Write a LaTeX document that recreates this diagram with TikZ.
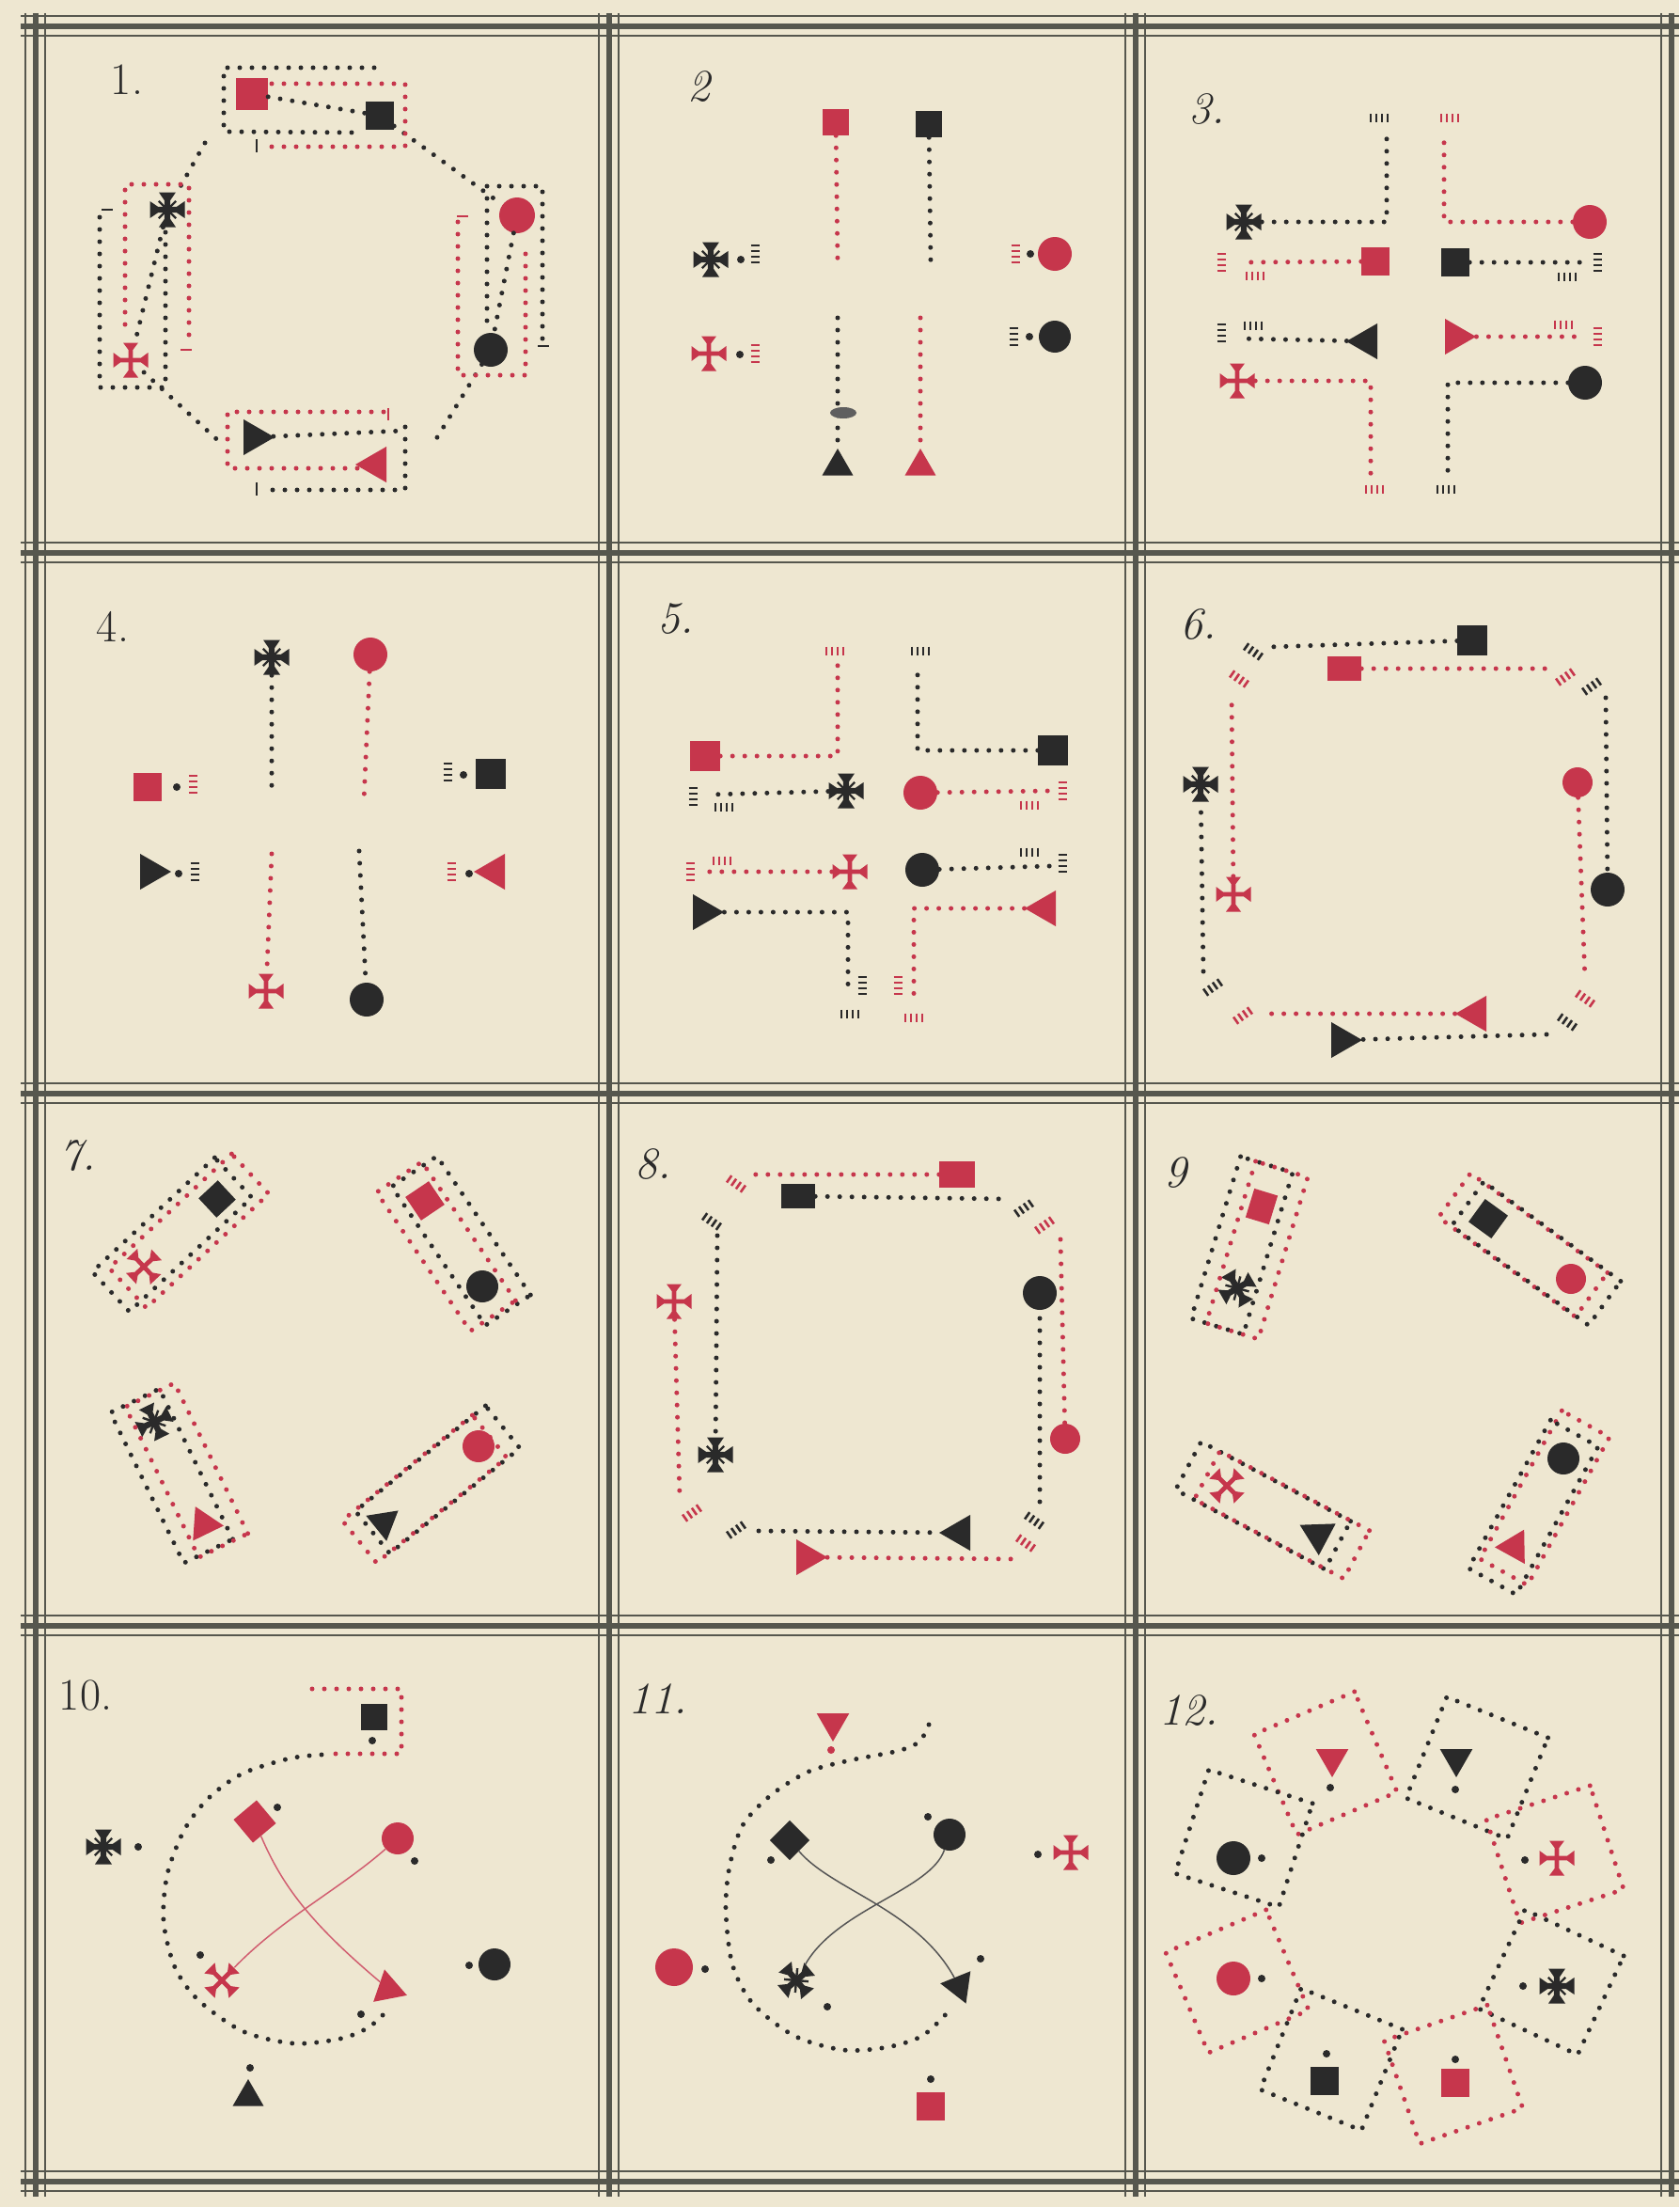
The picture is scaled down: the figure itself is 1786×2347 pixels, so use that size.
\documentclass[tikz,border=0pt]{standalone}
\usepackage{tikz}
\usetikzlibrary{shapes.geometric,calc}

\definecolor{paper}{HTML}{EEE7D1}
\definecolor{inkblack}{HTML}{2A2A2A}
\definecolor{inkred}{HTML}{C6364C}
\definecolor{rulegray}{HTML}{56574E}

\tikzset{
  bpath/.style={draw=inkblack, line width=5pt, line cap=round, dash pattern=on 0pt off 13pt},
  rpath/.style={bpath, draw=inkred},
  boxB/.style={bpath, inner sep=0pt},
  boxR/.style={rpath, inner sep=0pt},
  sqr/.style={rectangle, fill=#1, minimum size=30pt, inner sep=0pt},
  cir/.style={circle, fill=#1, minimum size=36pt, inner sep=0pt},
  tri/.style={regular polygon, regular polygon sides=3, fill=#1, minimum size=44pt, inner sep=0pt},
  crs/.style={circle, minimum size=38pt, inner sep=0pt},
  spot/.style={circle, fill=#1, minimum size=8pt, inner sep=0pt},
  endtick/.style={draw=#1, line width=2.6pt},
  cord/.style={draw=#1, line width=1.5pt},
  lbl/.style={text=inkblack, font=\fontsize{48}{48}\selectfont\itshape},
  lblup/.style={text=inkblack, font=\fontsize{48}{48}\selectfont},
  frameln/.style={draw=rulegray, line width=2pt},
  pics/steps/.style={code={
    \foreach \i in {-9,-3,3,9} \draw[#1, line width=2.6pt] (\i,-4.5) -- (\i,4.5);
  }},
  pics/cross/.style={code={
    \foreach \a in {0,90,180,270}
      \fill[#1, rotate=\a] (-2.4,0) -- (-2.4,11) -- (-8,18.5) -- (8,18.5) -- (2.4,11) -- (2.4,0) -- cycle;
  }},
  pics/starcross/.style={code={
    \foreach \a in {0,90,180,270}
      \fill[#1, rotate=\a] (-3.2,0) -- (-3.2,10) -- (-9,18.5) -- (9,18.5) -- (3.2,10) -- (3.2,0) -- cycle;
    \foreach \a in {45,135,225,315}
      \draw[#1, line width=2.4pt, rotate=\a] (0,0) -- (0,13);
  }},
}

\begin{document}
\begin{tikzpicture}[x=1pt, y=-1pt]
\fill[paper] (0,0) rectangle (1786,2347);
\useasboundingbox (0,0) rectangle (1786,2347);

% ruled frame
\foreach \c in {28,588,1163,1729,2320} {
  \draw[frameln] (22,\c-11) -- (1786,\c-11);
  \draw[frameln, line width=5.5pt] (22,\c) -- (1786,\c);
  \draw[frameln] (22,\c+10) -- (1786,\c+10);
}
\foreach \c in {38,648,1208,1778} {
  \draw[frameln] (\c-11,14) -- (\c-11,2336);
  \draw[frameln, line width=5.5pt] (\c,14) -- (\c,2336);
  \draw[frameln] (\c+10,14) -- (\c+10,2336);
}

% figure 1
\node[lblup] (n1) at (135,85) {1.};
\node[sqr=inkred, minimum size=34pt] (p1rs) at (268,100) {};
\node[sqr=inkblack] (p1bs) at (404,123) {};
\node[cir=inkred, minimum size=38pt] (p1rc) at (550,229) {};
\node[cir=inkblack] (p1bc) at (522,372) {};
\node[tri=inkred, shape border rotate=90] (p1rt) at (400,494) {};
\node[tri=inkblack, shape border rotate=-90] (p1bt) at (270,465) {};
\node[crs] (p1rx) at (139,383) {};
\node[crs] (p1bx) at (178,223) {};
\pic at (p1rx) {cross=inkred};
\pic at (p1bx) {starcross=inkblack};
\coordinate (p1o1) at (462,470);
\coordinate (p1o2) at (430,458);
\coordinate (p1o3) at (238,474);
\coordinate (p1o4) at (218,152);
\draw[bpath] (p1rs) -- (p1bs);
\draw[bpath] (p1bs) -- (p1rc);
\draw[bpath] (p1rc) -- (p1bc);
\draw[bpath] (p1bc) -- (p1o1);
\draw[bpath] (p1bt) -- (p1o2);
\draw[bpath] (p1rx) -- (p1o3);
\draw[bpath] (p1bx) -- (p1rx);
\draw[bpath] (p1o4) -- (p1bx);
% partner boxes
\draw[bpath] (398,72) -- (238,72) -- (238,140) -- (382,141);
\draw[rpath] (289,89) -- (431,89) -- (431,156) -- (276,156);
\draw[rpath] (487,236) -- (487,399) -- (559,399) -- (559,258);
\draw[bpath] (518,341) -- (518,198) -- (577,198) -- (577,362);
\draw[bpath] (176,247) -- (176,412) -- (106,412) -- (106,228);
\draw[rpath] (133,345) -- (133,196) -- (201,196) -- (201,368);
\draw[rpath] (408,438) -- (242,438) -- (242,498) -- (382,498);
\draw[bpath] (431,454) -- (431,521) -- (278,521);
\draw[endtick=inkblack] (273,148) -- (273,162);
\draw[endtick=inkred] (486,230) -- (498,230);
\draw[endtick=inkblack] (572,368) -- (584,368);
\draw[endtick=inkblack] (108,223) -- (120,223);
\draw[endtick=inkred] (192,372) -- (204,372);
\draw[endtick=inkred] (413,434) -- (413,447);
\draw[endtick=inkblack] (273,513) -- (273,527);

% figure 2
\node[lbl] (n2) at (743,92) {2};
\node[sqr=inkred, minimum size=28pt] (p2rs) at (889,130) {};
\node[sqr=inkblack, minimum size=28pt] (p2bs) at (988,132) {};
\coordinate (p2e1) at (891,280);
\coordinate (p2e2) at (990,280);
\draw[rpath] (p2rs) -- (p2e1);
\draw[bpath] (p2bs) -- (p2e2);
\node[crs] (p2bx) at (756,276) {};
\pic at (p2bx) {starcross=inkblack};
\node[spot=inkblack] (p2f1) at (788,276) {};
\pic[rotate=90] at (803,270) {steps=inkblack};
\node[crs] (p2rx) at (754,376) {};
\pic at (p2rx) {cross=inkred};
\node[spot=inkblack] (p2f2) at (787,377) {};
\pic[rotate=90] at (803,376) {steps=inkred};
\node[cir=inkred, minimum size=36pt] (p2rc) at (1122,270) {};
\node[spot=inkblack] (p2f3) at (1096,270) {};
\pic[rotate=90] at (1080,270) {steps=inkred};
\node[cir=inkblack, minimum size=34pt] (p2bc) at (1122,358) {};
\node[spot=inkblack] (p2f4) at (1095,358) {};
\pic[rotate=90] at (1078,358) {steps=inkblack};
\coordinate (p2e3) at (891,338);
\coordinate (p2e4) at (979,338);
\node[tri=inkblack, minimum size=38pt] (p2bt) at (891,496) {};
\node[tri=inkred, minimum size=38pt] (p2rt) at (979,496) {};
\draw[bpath] (p2e3) -- (p2bt);
\draw[rpath] (p2e4) -- (p2rt);
\fill[inkblack!75] (897,439) ellipse (14pt and 6pt);

% figure 3
\node[lbl] (n3) at (1284,116) {3.};
\node[crs] (p3bx) at (1323,236) {};
\pic at (p3bx) {starcross=inkblack};
\node[cir=inkred] (p3rc) at (1691,236) {};
\node[sqr=inkred, minimum size=30pt] (p3rs) at (1463,278) {};
\node[sqr=inkblack, minimum size=30pt] (p3bs) at (1548,279) {};
\node[tri=inkblack, shape border rotate=90] (p3bt) at (1454,363) {};
\node[tri=inkred, shape border rotate=-90] (p3rt) at (1548,358) {};
\node[crs] (p3rx) at (1316,405) {};
\pic at (p3rx) {cross=inkred};
\node[cir=inkblack] (p3bc) at (1686,407) {};
\coordinate (p3e1) at (1475,141);
\coordinate (p3e2) at (1536,145);
\coordinate (p3e3) at (1318,279);
\coordinate (p3e4) at (1684,279);
\coordinate (p3e5) at (1318,360);
\coordinate (p3e6) at (1684,358);
\coordinate (p3e7) at (1458,505);
\coordinate (p3e8) at (1540,505);
\draw[bpath] (p3bx) -| (p3e1);
\draw[rpath] (p3rc) -| (p3e2);
\draw[rpath] (p3rs) -- (p3e3);
\draw[bpath] (p3bs) -- (p3e4);
\draw[bpath] (p3bt) -- (p3e5);
\draw[rpath] (p3rt) -- (p3e6);
\draw[rpath] (p3rx) -| (p3e7);
\draw[bpath] (p3bc) -| (p3e8);
\pic at (1467,126) {steps=inkblack};
\pic at (1542,126) {steps=inkred};
\pic[rotate=90] at (1299,279) {steps=inkred};
\pic at (1335,293) {steps=inkred};
\pic[rotate=90] at (1699,279) {steps=inkblack};
\pic at (1667,294) {steps=inkblack};
\pic[rotate=90] at (1299,354) {steps=inkblack};
\pic at (1333,346) {steps=inkblack};
\pic[rotate=90] at (1699,358) {steps=inkred};
\pic at (1663,345) {steps=inkred};
\pic at (1462,520) {steps=inkred};
\pic at (1538,520) {steps=inkblack};

% figure 4
\node[lblup] (n4) at (120,666) {4.};
\node[crs] (p4bx) at (289,699) {};
\pic at (p4bx) {starcross=inkblack};
\node[cir=inkred] (p4rc) at (394,696) {};
\coordinate (p4e1) at (289,845);
\coordinate (p4e2) at (387,852);
\draw[bpath] (p4bx) -- (p4e1);
\draw[rpath] (p4rc) -- (p4e2);
\node[sqr=inkred] (p4rs) at (157,837) {};
\node[spot=inkblack] (p4f1) at (188,837) {};
\pic[rotate=90] at (205,834) {steps=inkred};
\node[tri=inkblack, shape border rotate=-90] (p4bt) at (160,927) {};
\node[spot=inkblack] (p4f2) at (190,929) {};
\pic[rotate=90] at (207,927) {steps=inkblack};
\node[sqr=inkblack, minimum size=32pt] (p4bs) at (522,823) {};
\node[spot=inkblack] (p4f3) at (493,824) {};
\pic[rotate=90] at (476,821) {steps=inkblack};
\node[tri=inkred, shape border rotate=90] (p4rt) at (526,927) {};
\node[spot=inkblack] (p4f4) at (499,929) {};
\pic[rotate=90] at (480,927) {steps=inkred};
\coordinate (p4e3) at (289,908);
\coordinate (p4e4) at (382,905);
\node[crs] (p4rx) at (283,1054) {};
\pic at (p4rx) {cross=inkred};
\node[cir=inkblack] (p4bc) at (390,1063) {};
\draw[rpath] (p4e3) -- (p4rx);
\draw[bpath] (p4e4) -- (p4bc);

% figure 5
\node[lbl] (n5) at (719,658) {5.};
\node[sqr=inkred, minimum size=32pt] (p5rs) at (750,804) {};
\node[sqr=inkblack, minimum size=32pt] (p5bs) at (1120,798) {};
\node[crs] (p5bx) at (900,841) {};
\pic at (p5bx) {starcross=inkblack};
\node[cir=inkred] (p5rc) at (979,843) {};
\node[crs] (p5rx) at (904,927) {};
\pic at (p5rx) {cross=inkred};
\node[cir=inkblack] (p5bc) at (981,925) {};
\node[tri=inkblack, shape border rotate=-90] (p5bt) at (748,970) {};
\node[tri=inkred, shape border rotate=90] (p5rt) at (1112,966) {};
\coordinate (p5e1) at (891,707);
\coordinate (p5e2) at (976,707);
\coordinate (p5e3) at (754,845);
\coordinate (p5e4) at (1117,841);
\coordinate (p5e5) at (754,927);
\coordinate (p5e6) at (1117,921);
\coordinate (p5e7) at (902,1054);
\coordinate (p5e8) at (972,1058);
\draw[rpath] (p5rs) -| (p5e1);
\draw[bpath] (p5bs) -| (p5e2);
\draw[bpath] (p5bx) -- (p5e3);
\draw[rpath] (p5rc) -- (p5e4);
\draw[rpath] (p5rx) -- (p5e5);
\draw[bpath] (p5bc) -- (p5e6);
\draw[bpath] (p5bt) -| (p5e7);
\draw[rpath] (p5rt) -| (p5e8);
\pic at (888,692) {steps=inkred};
\pic at (979,692) {steps=inkblack};
\pic[rotate=90] at (737,847) {steps=inkblack};
\pic at (770,858) {steps=inkblack};
\pic[rotate=90] at (1130,841) {steps=inkred};
\pic at (1095,856) {steps=inkred};
\pic[rotate=90] at (734,927) {steps=inkred};
\pic at (768,915) {steps=inkred};
\pic[rotate=90] at (1130,918) {steps=inkblack};
\pic at (1095,906) {steps=inkblack};
\pic[rotate=90] at (917,1048) {steps=inkblack};
\pic at (904,1078) {steps=inkblack};
\pic[rotate=90] at (955,1048) {steps=inkred};
\pic at (972,1082) {steps=inkred};

% figure 6
\node[lbl] (n6) at (1275,664) {6.};
\node[sqr=inkblack, minimum size=32pt] (p6bs) at (1566,681) {};
\node[sqr=inkred, minimum width=36pt, minimum height=26pt] (p6rs) at (1430,711) {};
\node[cir=inkblack] (p6bc) at (1710,946) {};
\node[cir=inkred, minimum size=32pt] (p6rc) at (1678,832) {};
\node[tri=inkblack, shape border rotate=-90] (p6bt) at (1427,1106) {};
\node[tri=inkred, shape border rotate=90] (p6rt) at (1570,1078) {};
\node[crs] (p6bx) at (1277,834) {};
\pic at (p6bx) {starcross=inkblack};
\node[crs] (p6rx) at (1312,951) {};
\pic at (p6rx) {cross=inkred};
\coordinate (p6e1) at (1349,688);
\coordinate (p6e2) at (1648,711);
\coordinate (p6e3) at (1708,742);
\coordinate (p6e4) at (1686,1043);
\coordinate (p6e5) at (1645,1100);
\coordinate (p6e6) at (1346,1078);
\coordinate (p6e7) at (1280,1033);
\coordinate (p6e8) at (1310,737);
\draw[bpath] (p6bs) -- (p6e1);
\draw[rpath] (p6rs) -- (p6e2);
\draw[bpath] (p6e3) -- (p6bc);
\draw[rpath] (p6rc) -- (p6e4);
\draw[bpath] (p6e5) -- (p6bt);
\draw[rpath] (p6rt) -- (p6e6);
\draw[bpath] (p6e7) -- (p6bx);
\draw[rpath] (p6rx) -- (p6e8);
\pic[rotate=-35] at (1333,693) {steps=inkblack};
\pic[rotate=35] at (1665,720) {steps=inkred};
\pic[rotate=35] at (1693,730) {steps=inkblack};
\pic[rotate=-35] at (1686,1062) {steps=inkred};
\pic[rotate=-35] at (1667,1087) {steps=inkblack};
\pic[rotate=35] at (1322,1080) {steps=inkred};
\pic[rotate=35] at (1290,1050) {steps=inkblack};
\pic[rotate=-35] at (1318,722) {steps=inkred};

% figure 7
\node[lbl] (n7) at (83,1229) {7.};
\node[crs] (p7rx) at (153,1347) {};
\pic[rotate=43] at (p7rx) {cross=inkred};
\node[sqr=inkblack, rotate=43, minimum size=28pt] (p7bs) at (231,1275) {};
\node[boxB, rotate=43, minimum width=178pt, minimum height=58pt] (p7k1) at ($(p7rx)!0.5!(p7bs)+(-9,2)$) {};
\node[boxR, rotate=43, minimum width=178pt, minimum height=58pt] (p7k2) at ($(p7rx)!0.5!(p7bs)+(9,-2)$) {};
\node[sqr=inkred, rotate=-56, minimum size=30pt] (p7rs) at (452,1277) {};
\node[cir=inkblack, minimum size=34pt] (p7bc) at (513,1368) {};
\node[boxB, rotate=-56, minimum width=178pt, minimum height=58pt] (p7k3) at ($(p7rs)!0.5!(p7bc)+(8,-3)$) {};
\node[boxR, rotate=-56, minimum width=178pt, minimum height=58pt] (p7k4) at ($(p7rs)!0.5!(p7bc)+(-8,3)$) {};
\node[crs] (p7bx) at (164,1512) {};
\pic[rotate=26] at (p7bx) {starcross=inkblack};
\node[tri=inkred, shape border rotate=26, minimum size=42pt] (p7rt) at (217,1621) {};
\node[boxB, rotate=-64, minimum width=178pt, minimum height=58pt] (p7k5) at ($(p7bx)!0.5!(p7rt)+(-8,3)$) {};
\node[boxR, rotate=-64, minimum width=178pt, minimum height=58pt] (p7k6) at ($(p7bx)!0.5!(p7rt)+(8,-3)$) {};
\node[cir=inkred, minimum size=34pt] (p7rc) at (509,1538) {};
\node[tri=inkblack, shape border rotate=-51, minimum size=40pt] (p7bt) at (408,1619) {};
\node[boxB, rotate=39, minimum width=178pt, minimum height=58pt] (p7k7) at ($(p7bt)!0.5!(p7rc)+(7,-5)$) {};
\node[boxR, rotate=39, minimum width=178pt, minimum height=58pt] (p7k8) at ($(p7bt)!0.5!(p7rc)+(-7,5)$) {};

% figure 8
\node[lbl] (n8) at (695,1238) {8.};
\node[sqr=inkred, minimum width=38pt, minimum height=28pt] (p8rs) at (1018,1249) {};
\node[sqr=inkblack, minimum width=36pt, minimum height=26pt] (p8bs) at (849,1272) {};
\node[crs] (p8bx) at (761,1547) {};
\pic at (p8bx) {starcross=inkblack};
\node[crs] (p8rx) at (717,1384) {};
\pic at (p8rx) {cross=inkred};
\node[tri=inkblack, shape border rotate=90] (p8bt) at (1021,1630) {};
\node[tri=inkred, shape border rotate=-90] (p8rt) at (858,1656) {};
\node[cir=inkblack] (p8bc) at (1106,1375) {};
\node[cir=inkred, minimum size=32pt] (p8rc) at (1133,1530) {};
\coordinate (p8e1) at (801,1249);
\coordinate (p8e2) at (1069,1275);
\coordinate (p8e3) at (763,1314);
\coordinate (p8e4) at (723,1592);
\coordinate (p8e5) at (807,1628);
\coordinate (p8e6) at (1086,1658);
\coordinate (p8e7) at (1106,1597);
\coordinate (p8e8) at (1128,1318);
\draw[rpath] (p8rs) -- (p8e1);
\draw[bpath] (p8bs) -- (p8e2);
\draw[bpath] (p8e3) -- (p8bx);
\draw[rpath] (p8rx) -- (p8e4);
\draw[bpath] (p8e5) -- (p8bt);
\draw[rpath] (p8rt) -- (p8e6);
\draw[bpath] (p8e7) -- (p8bc);
\draw[rpath] (p8e8) -- (p8rc);
\pic[rotate=-35] at (783,1259) {steps=inkred};
\pic[rotate=35] at (1089,1285) {steps=inkblack};
\pic[rotate=-35] at (757,1299) {steps=inkblack};
\pic[rotate=35] at (736,1609) {steps=inkred};
\pic[rotate=35] at (783,1627) {steps=inkblack};
\pic[rotate=-35] at (1091,1641) {steps=inkred};
\pic[rotate=-35] at (1100,1617) {steps=inkblack};
\pic[rotate=35] at (1111,1303) {steps=inkred};

% figure 9
\node[lbl] (n9) at (1250,1247) {9};
\node[sqr=inkred, rotate=73, minimum width=32pt, minimum height=26pt] (p9rs) at (1342,1283) {};
\node[crs] (p9bx) at (1316,1370) {};
\pic[rotate=30] at (p9bx) {starcross=inkblack};
\node[boxB, rotate=73, minimum width=180pt, minimum height=58pt] (p9k1) at ($(p9bx)!0.5!(p9rs)+(-8,-2)$) {};
\node[boxR, rotate=73, minimum width=180pt, minimum height=58pt] (p9k2) at ($(p9bx)!0.5!(p9rs)+(8,3)$) {};
\node[sqr=inkblack, rotate=-36, minimum size=30pt] (p9bs) at (1583,1296) {};
\node[cir=inkred, minimum size=32pt] (p9rc) at (1671,1360) {};
\node[boxR, rotate=-36, minimum width=180pt, minimum height=58pt] (p9k3) at ($(p9bs)!0.5!(p9rc)+(-7,-4)$) {};
\node[boxB, rotate=-36, minimum width=180pt, minimum height=58pt] (p9k4) at ($(p9bs)!0.5!(p9rc)+(7,5)$) {};
\node[crs] (p9rx) at (1305,1580) {};
\pic[rotate=45] at (p9rx) {cross=inkred};
\node[tri=inkblack, shape border rotate=62, minimum size=44pt] (p9bt) at (1402,1632) {};
\node[boxB, rotate=-28, minimum width=180pt, minimum height=58pt] (p9k5) at ($(p9rx)!0.5!(p9bt)+(-10,-5)$) {};
\node[boxR, rotate=-28, minimum width=180pt, minimum height=58pt] (p9k6) at ($(p9rx)!0.5!(p9bt)+(10,5)$) {};
\node[cir=inkblack, minimum size=34pt] (p9bc) at (1663,1551) {};
\node[tri=inkred, shape border rotate=-29, minimum size=42pt] (p9rt) at (1611,1645) {};
\node[boxR, rotate=61, minimum width=180pt, minimum height=58pt] (p9k7) at ($(p9rt)!0.5!(p9bc)+(6,-5)$) {};
\node[boxB, rotate=61, minimum width=180pt, minimum height=58pt] (p9k8) at ($(p9rt)!0.5!(p9bc)+(-6,5)$) {};

% figure 10
\node[lblup] (n10) at (91,1803) {10.};
\node[sqr=inkblack, minimum size=28pt] (p10bs) at (398,1826) {};
\node[spot=inkblack] (p10f1) at (396,1851) {};
\coordinate (p10e1) at (332,1796);
\coordinate (p10e2) at (355,1865);
\draw[rpath] (p10e1) -- (427,1796) -- (427,1865) -- (p10e2);
\draw[bpath] plot[smooth] coordinates {(342,1866) (308,1870) (258,1886) (222,1912) (196,1946) (178,1993) (174,2043) (186,2092) (211,2127) (258,2160) (312,2173) (362,2168) (392,2156) (412,2138)};
\node[sqr=inkred, rotate=40, minimum size=32pt] (p10rs) at (271,1937) {};
\node[spot=inkblack] (p10f2) at (295,1922) {};
\node[cir=inkred, minimum size=34pt] (p10rc) at (423,1955) {};
\node[spot=inkblack] (p10f3) at (441,1979) {};
\node[crs] (p10rx) at (236,2106) {};
\pic[rotate=45] at (p10rx) {cross=inkred};
\node[spot=inkblack] (p10f4) at (213,2079) {};
\node[tri=inkred, shape border rotate=131, minimum size=42pt] (p10rt) at (413,2115) {};
\node[spot=inkblack] (p10f5) at (384,2142) {};
\draw[cord=inkred!80] (p10rs) .. controls (300,2005) and (330,2045) .. (p10rt);
\draw[cord=inkred!80] (p10rc) .. controls (360,2010) and (300,2040) .. (p10rx);
\node[crs] (p10bx) at (110,1964) {};
\pic at (p10bx) {starcross=inkblack};
\node[spot=inkblack] (p10f6) at (147,1964) {};
\node[cir=inkblack, minimum size=34pt] (p10bc) at (526,2089) {};
\node[spot=inkblack] (p10f7) at (499,2090) {};
\node[tri=inkblack, minimum size=38pt] (p10bt) at (264,2230) {};
\node[spot=inkblack] (p10f8) at (266,2199) {};

% figure 11
\node[lbl] (n11) at (700,1807) {11.};
\draw[bpath] plot[smooth] coordinates {(988,1834) (978,1852) (955,1862) (904,1872) (860,1884) (820,1909) (790,1941) (776,1985) (772,2031) (779,2089) (801,2131) (845,2165) (897,2180) (944,2177) (981,2165) (1008,2140)};
\node[tri=inkred, shape border rotate=180, minimum size=40pt] (p11rt) at (886,1832) {};
\node[spot=inkred] (p11f1) at (884,1861) {};
\node[sqr=inkblack, rotate=45, minimum size=30pt] (p11bs) at (840,1957) {};
\node[spot=inkblack] (p11f2) at (820,1978) {};
\node[cir=inkblack, minimum size=34pt] (p11bc) at (1010,1951) {};
\node[spot=inkblack] (p11f3) at (987,1932) {};
\node[crs] (p11bx) at (847,2106) {};
\pic[rotate=40] at (p11bx) {starcross=inkblack};
\node[spot=inkblack] (p11f4) at (880,2134) {};
\node[tri=inkblack, shape border rotate=-38, minimum size=40pt] (p11bt) at (1020,2112) {};
\node[spot=inkblack] (p11f5) at (1043,2083) {};
\draw[cord=inkblack!80] (p11bs) .. controls (885,2010) and (975,2030) .. (p11bt);
\draw[cord=inkblack!80] (p11bc) .. controls (990,2010) and (890,2030) .. (p11bx);
\node[crs] (p11rx) at (1139,1970) {};
\pic at (p11rx) {cross=inkred};
\node[spot=inkblack] (p11f6) at (1104,1972) {};
\node[cir=inkred, minimum size=40pt] (p11rc) at (717,2092) {};
\node[spot=inkblack] (p11f7) at (750,2094) {};
\node[sqr=inkred, minimum size=30pt] (p11rs) at (990,2240) {};
\node[spot=inkblack] (p11f8) at (990,2211) {};

% figure 12
\node[lbl] (n12) at (1265,1819) {12.};
\node[boxR, rotate=23, minimum size=116pt] (p12k1) at (1410,1875) {};
\node[boxB, rotate=-22, minimum size=116pt] (p12k2) at (1571,1880) {};
\node[boxB, rotate=-18, minimum size=116pt] (p12k3) at (1323,1955) {};
\node[boxR, rotate=18, minimum size=116pt] (p12k4) at (1654,1972) {};
\node[boxR, rotate=23, minimum size=116pt] (p12k5) at (1316,2107) {};
\node[boxB, rotate=-25, minimum size=116pt] (p12k6) at (1650,2108) {};
\node[boxB, rotate=-22, minimum size=116pt] (p12k7) at (1416,2190) {};
\node[boxR, rotate=19, minimum size=116pt] (p12k8) at (1546,2206) {};
\node[tri=inkred, shape border rotate=180, minimum size=40pt] (p12rt) at (1417,1870) {};
\node[spot=inkblack] (p12f1) at (1415,1901) {};
\node[tri=inkblack, shape border rotate=180, minimum size=40pt] (p12bt) at (1549,1870) {};
\node[spot=inkblack] (p12f2) at (1548,1903) {};
\node[cir=inkblack] (p12bc) at (1312,1976) {};
\node[spot=inkblack] (p12f3) at (1342,1976) {};
\node[crs] (p12rx) at (1656,1976) {};
\pic at (p12rx) {cross=inkred};
\node[spot=inkblack] (p12f4) at (1622,1978) {};
\node[cir=inkred] (p12rc) at (1312,2104) {};
\node[spot=inkblack] (p12f5) at (1342,2104) {};
\node[crs] (p12bx) at (1656,2112) {};
\pic at (p12bx) {starcross=inkblack};
\node[spot=inkblack] (p12f6) at (1620,2112) {};
\node[sqr=inkblack] (p12bs) at (1409,2213) {};
\node[spot=inkblack] (p12f7) at (1411,2184) {};
\node[sqr=inkred] (p12rs) at (1548,2215) {};
\node[spot=inkblack] (p12f8) at (1548,2190) {};
\end{tikzpicture}
\end{document}
